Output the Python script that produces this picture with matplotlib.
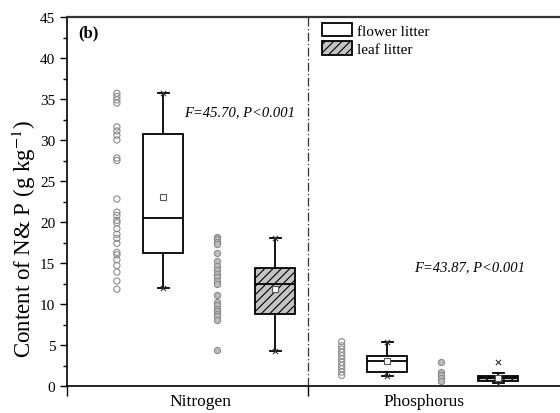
import matplotlib
matplotlib.use("Agg")
import matplotlib.pyplot as plt
from matplotlib.patches import Patch
from matplotlib.ticker import MultipleLocator

plt.rcParams['font.family'] = ['Liberation Serif', 'DejaVu Serif']
plt.rcParams['mathtext.fontset'] = 'stix'
plt.rcParams['hatch.color'] = '#555555'
plt.rcParams['hatch.linewidth'] = 0.8

# raw points
flower_N = [35.7, 35.3, 34.9, 34.5, 31.6, 31.1, 30.6, 30.0, 27.8, 27.5, 22.8, 21.2, 20.8,
            20.2, 19.9, 19.2, 18.5, 18.0, 17.4, 16.3, 16.0, 15.4, 14.7, 13.9, 12.8, 11.8]
leaf_N = [18.2, 17.9, 17.6, 17.3, 16.2, 15.2, 14.6, 14.1, 13.7, 13.3, 12.8, 12.4, 11.1,
          10.2, 9.9, 9.4, 9.1, 8.8, 8.5, 8.0, 4.4]
flower_P = [5.4, 4.9, 4.5, 4.1, 3.7, 3.3, 2.9, 2.5, 2.1, 1.7, 1.3]
leaf_P = [2.9, 1.75, 1.35, 0.95, 0.55]

# box statistics: N flower, N leaf, P flower, P leaf
q1 = [16.2, 8.8, 1.75, 0.55]
med = [20.5, 12.45, 3.0, 0.92]
q3 = [30.7, 14.45, 3.7, 1.18]
whislo = [11.9, 4.3, 1.2, 0.35]
whishi = [35.7, 18.05, 5.4, 1.6]
means = [23.1, 11.8, 3.0, 0.95]
mins = [11.9, 4.3, 1.2, 0.3]
maxs = [35.7, 18.05, 5.4, 2.9]

groups = ['Nitrogen', 'Phosphorus']
series = ['flower litter', 'leaf litter']
f_stats = ['F=45.70, P<0.001', 'F=43.87, P<0.001']

box_pos = [0.40, 0.865, 1.33, 1.79]
pt_pos = [0.207, 0.622, 1.14, 1.552]
points = [flower_N, leaf_N, flower_P, leaf_P]

fig = plt.figure(figsize=(5.6, 4.14), dpi=100)
ax = fig.add_axes([67 / 560, 27 / 414, 494 / 560, 369 / 414])

stats = [dict(med=med[i], q1=q1[i], q3=q3[i], whislo=whislo[i], whishi=whishi[i],
              mean=means[i], fliers=[]) for i in range(4)]
bp = ax.bxp(stats, positions=box_pos, widths=0.166, patch_artist=True, showmeans=True,
            capwidths=0.045, manage_ticks=False,
            boxprops=dict(edgecolor='black', linewidth=1.3),
            medianprops=dict(color='black', linewidth=1.3),
            whiskerprops=dict(color='black', linewidth=1.3),
            capprops=dict(color='black', linewidth=1.3),
            meanprops=dict(marker='s', markerfacecolor='white', markeredgecolor='#555555',
                           markersize=4, markeredgewidth=0.8))
for i, b in enumerate(bp['boxes']):
    if i % 2 == 0:
        b.set_facecolor('white')
    else:
        b.set_facecolor('#c4c4c4')
        b.set_hatch('////')

# min / max markers
ax.scatter(box_pos, mins, marker='x', s=14, color='#333333', linewidths=0.8, zorder=4)
ax.scatter(box_pos, maxs, marker='x', s=14, color='#333333', linewidths=0.8, zorder=4)

# data points beside each box
for i, vals in enumerate(points):
    fc = 'none' if i % 2 == 0 else '#bdbdbd'
    ax.scatter([pt_pos[i]] * len(vals), vals, s=20, facecolors=fc,
               edgecolors='#8a8a8a', linewidths=0.8, zorder=3)

ax.axvline(1.0, color='#333333', linewidth=0.9, linestyle=(0, (7, 2, 1, 2)))

ax.text(0.718, 33.4, f_stats[0], style='italic', fontsize=10.5, ha='center', va='center')
ax.text(1.672, 14.6, f_stats[1], style='italic', fontsize=10.5, ha='center', va='center')
ax.text(0.022, 0.959, '(b)', transform=ax.transAxes, fontsize=12, fontweight='bold',
        ha='left', va='center')

ax.set_xlim(0, 2.05)
ax.set_ylim(0, 45)
ax.yaxis.set_major_locator(MultipleLocator(5))
ax.yaxis.set_minor_locator(MultipleLocator(2.5))
ax.tick_params(axis='y', which='major', direction='out', length=5, width=1, labelsize=11)
ax.tick_params(axis='y', which='minor', direction='out', length=3, width=1)
ax.set_xticks([0, 1])
ax.set_xticklabels([])
ax.set_xticks([0.555, 1.48], minor=True)
ax.set_xticklabels(groups, minor=True, fontsize=12.5)
ax.tick_params(axis='x', which='major', direction='out', length=7, width=1)
ax.tick_params(axis='x', which='minor', length=0, pad=5)
ax.set_ylabel('Content of N& P (g kg$^{-1}$)', fontsize=16.5)
ax.yaxis.set_label_coords(-0.059, 0.40)

ax.spines['right'].set_visible(False)
for s in ['left', 'bottom']:
    ax.spines[s].set_linewidth(1.2)
ax.spines['top'].set_linewidth(1.6)
ax.spines['top'].set_color('#333333')

handles = [Patch(facecolor='white', edgecolor='black', linewidth=1.3),
           Patch(facecolor='#c4c4c4', edgecolor='black', linewidth=1.3, hatch='////')]
ax.legend(handles, series, loc='upper left', bbox_to_anchor=(0.516, 0.985), frameon=False,
          fontsize=11, handlelength=2.0, handleheight=1.0, handletextpad=0.3,
          labelspacing=0.25, borderpad=0, borderaxespad=0)

fig.savefig('out.png', dpi=100)
